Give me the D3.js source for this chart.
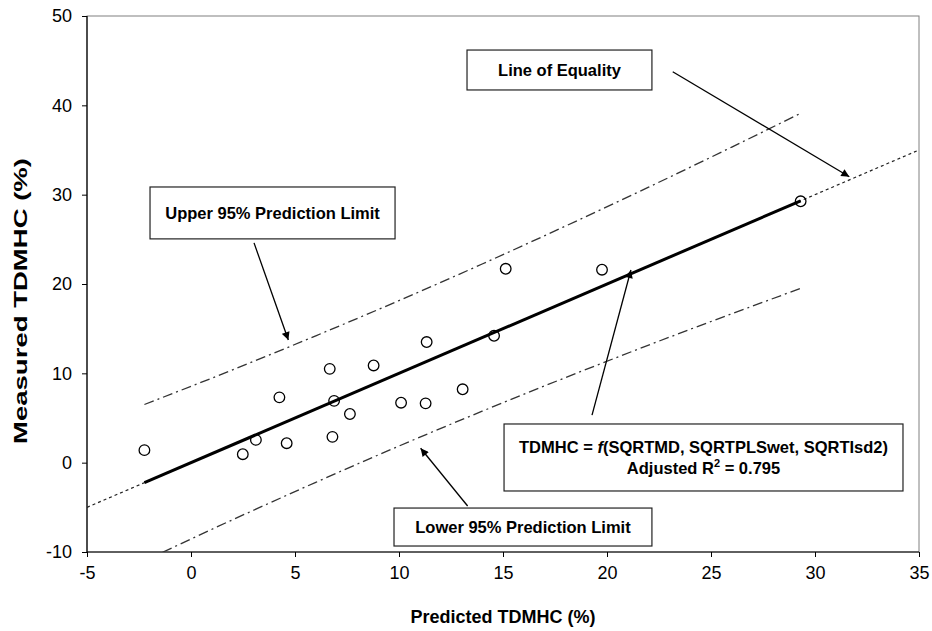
<!DOCTYPE html>
<html>
<head>
<meta charset="utf-8">
<script src="https://cdn.jsdelivr.net/npm/d3@7"></script>
<style>
  html, body { margin: 0; padding: 0; background: #fff; }
  svg { display: block; font-family: "Liberation Sans", Arial, sans-serif; }
</style>
</head>
<body>
<svg id="chart" width="932" height="631"></svg>
<script>
// ---- data ----
const predicted = [-2.24, 2.49, 3.12, 4.25, 4.60, 6.67, 6.80, 6.88, 7.64, 8.78, 10.10, 11.28, 11.33, 13.06, 14.57, 15.13, 19.76, 29.31];
const measured  = [ 1.40, 0.95, 2.55, 7.31, 2.18, 10.50, 2.89, 6.92, 5.45, 10.88, 6.71, 6.64, 13.50, 8.21, 14.20, 21.70, 21.60, 29.26];

const fitX = [-2.24, 29.31];
const fitY = [-2.24, 29.31];

const equalityX = [-5, 35];
const equalityY = [-5, 35];

const limitX     = [-2.24, 2, 6, 10, 14, 18, 22, 26, 29.31];
const upperLimit = [6.51, 10.39, 14.20, 18.14, 22.24, 26.48, 30.84, 35.33, 39.11];
const lowerLimit = [-10.99, -6.39, -2.20, 1.86, 5.76, 9.52, 13.16, 16.67, 19.51];

const xTicks = [-5, 0, 5, 10, 15, 20, 25, 30, 35];
const yTicks = [-10, 0, 10, 20, 30, 40, 50];

const xTitle = "Predicted TDMHC (%)";
const yTitle = "Measured TDMHC (%)";

// annotations (anchored in data units)
const notes = [
  { lines: ["Line of Equality"], box: [13.27, 46.19, 22.16, 41.72], arrow: [23.16, 43.76, 31.65, 32.01] },
  { lines: ["Upper 95% Prediction Limit"], box: [-1.97, 30.86, 9.81, 25.05], arrow: [3.03, 24.6, 4.68, 13.73] },
  { lines: ["TDMHC = ", "f", "(SQRTMD, SQRTPLSwet, SQRTIsd2)"], formula: true, box: [15.05, 4.33, 34.23, -3.17], arrow: [19.28, 5.33, 21.15, 21.57] },
  { lines: ["Lower 95% Prediction Limit"], box: [9.76, -5.08, 22.16, -9.33], arrow: [13.30, -4.85, 11.04, 1.61] }
];

// ---- layout ----
const svg = d3.select("#chart");
const m = { left: 87, right: 919, top: 16, bottom: 552 };
const x = d3.scaleLinear().domain([-5, 35]).range([m.left, m.right]);
const y = d3.scaleLinear().domain([-10, 50]).range([m.bottom, m.top]);

svg.append("defs").append("clipPath").attr("id", "clip")
  .append("rect").attr("x", m.left).attr("y", m.top)
  .attr("width", m.right - m.left).attr("height", m.bottom - m.top);

const marker = svg.select("defs").append("marker")
  .attr("id", "arrow").attr("viewBox", "0 0 10 10")
  .attr("refX", 10).attr("refY", 5)
  .attr("markerWidth", 10).attr("markerHeight", 8)
  .attr("markerUnits", "userSpaceOnUse")
  .attr("orient", "auto");
marker.append("path").attr("d", "M0,0 L10,5 L0,10 Z").attr("fill", "#000");

// frame (top/right border)
svg.append("rect")
  .attr("x", m.left).attr("y", m.top)
  .attr("width", m.right - m.left).attr("height", m.bottom - m.top)
  .attr("fill", "none").attr("stroke", "#808080").attr("stroke-width", 1);

// axes
const fmt = d => String(d);
const xAxis = svg.append("g").attr("transform", `translate(0,${m.bottom})`)
  .call(d3.axisBottom(x).tickValues(xTicks).tickSize(5).tickPadding(9).tickFormat(fmt));
const yAxis = svg.append("g").attr("transform", `translate(${m.left},0)`)
  .call(d3.axisLeft(y).tickValues(yTicks).tickSize(5).tickPadding(10).tickFormat(fmt));
[xAxis, yAxis].forEach(g => {
  g.select(".domain").attr("stroke", "#000").attr("stroke-width", 1.2);
  g.selectAll(".tick line").attr("stroke", "#000");
  g.selectAll(".tick text").attr("font-size", 18).attr("fill", "#000")
    .attr("font-family", "'Liberation Sans', Arial, sans-serif");
});
yAxis.select(".domain").attr("d", `M0,${m.top}V${m.bottom}`);
xAxis.select(".domain").attr("d", `M${m.left},0H${m.right}`);

// axis titles
svg.append("text").attr("x", (m.left + m.right) / 2).attr("y", 623)
  .attr("text-anchor", "middle").attr("font-size", 18).attr("font-weight", "bold").text(xTitle);
svg.append("text").attr("transform", `translate(27,301) rotate(-90)`)
  .attr("text-anchor", "middle").attr("font-size", 18).attr("font-weight", "bold")
  .attr("textLength", 286).attr("lengthAdjust", "spacingAndGlyphs").text(yTitle);

const plot = svg.append("g").attr("clip-path", "url(#clip)");
const line = d3.line().x(d => x(d[0])).y(d => y(d[1]));

// line of equality
plot.append("path").datum(d3.zip(equalityX, equalityY)).attr("d", line)
  .attr("fill", "none").attr("stroke", "#222").attr("stroke-width", 1.2).attr("stroke-dasharray", "3,3");

// prediction limits
const curved = d3.line().x(d => x(d[0])).y(d => y(d[1])).curve(d3.curveMonotoneX);
[upperLimit, lowerLimit].forEach(arr => {
  plot.append("path").datum(d3.zip(limitX, arr)).attr("d", curved)
    .attr("fill", "none").attr("stroke", "#333").attr("stroke-width", 1.3).attr("stroke-dasharray", "10,4,2,4");
});

// fitted line
plot.append("path").datum(d3.zip(fitX, fitY)).attr("d", line)
  .attr("fill", "none").attr("stroke", "#000").attr("stroke-width", 3);

// points
plot.selectAll("circle.pt").data(d3.zip(predicted, measured)).join("circle")
  .attr("class", "pt").attr("cx", d => x(d[0])).attr("cy", d => y(d[1])).attr("r", 5.3)
  .attr("fill", "none").attr("stroke", "#000").attr("stroke-width", 1.3);

// annotations
notes.forEach(n => {
  const [x0, y0, x1, y1] = n.box;
  const bx = x(x0), by = y(y0), bw = x(x1) - x(x0), bh = y(y1) - y(y0);
  const [ax0, ay0, ax1, ay1] = n.arrow;
  svg.append("line").attr("x1", x(ax0)).attr("y1", y(ay0)).attr("x2", x(ax1)).attr("y2", y(ay1))
    .attr("stroke", "#000").attr("stroke-width", 1.3).attr("marker-end", "url(#arrow)");
  svg.append("rect").attr("x", bx).attr("y", by).attr("width", bw).attr("height", bh)
    .attr("fill", "#fff").attr("stroke", "#222").attr("stroke-width", 1.2);
  const cx = bx + bw / 2;
  if (n.formula) {
    const t1 = svg.append("text").attr("x", cx).attr("y", by + bh / 2 - 4)
      .attr("text-anchor", "middle").attr("font-size", 16.5).attr("font-weight", "bold");
    t1.append("tspan").text(n.lines[0]);
    t1.append("tspan").attr("font-style", "italic").text(n.lines[1]);
    t1.append("tspan").text(n.lines[2]);
    const t2 = svg.append("text").attr("x", cx).attr("y", by + bh / 2 + 17)
      .attr("text-anchor", "middle").attr("font-size", 16.5).attr("font-weight", "bold");
    t2.append("tspan").text("Adjusted R");
    t2.append("tspan").attr("font-size", 11).attr("dy", -7).text("2");
    t2.append("tspan").attr("dy", 7).text(" = 0.795");
  } else {
    svg.append("text").attr("x", cx).attr("y", by + bh / 2 + 6)
      .attr("text-anchor", "middle").attr("font-size", 16.5).attr("font-weight", "bold").text(n.lines[0]);
  }
});
</script>
</body>
</html>
